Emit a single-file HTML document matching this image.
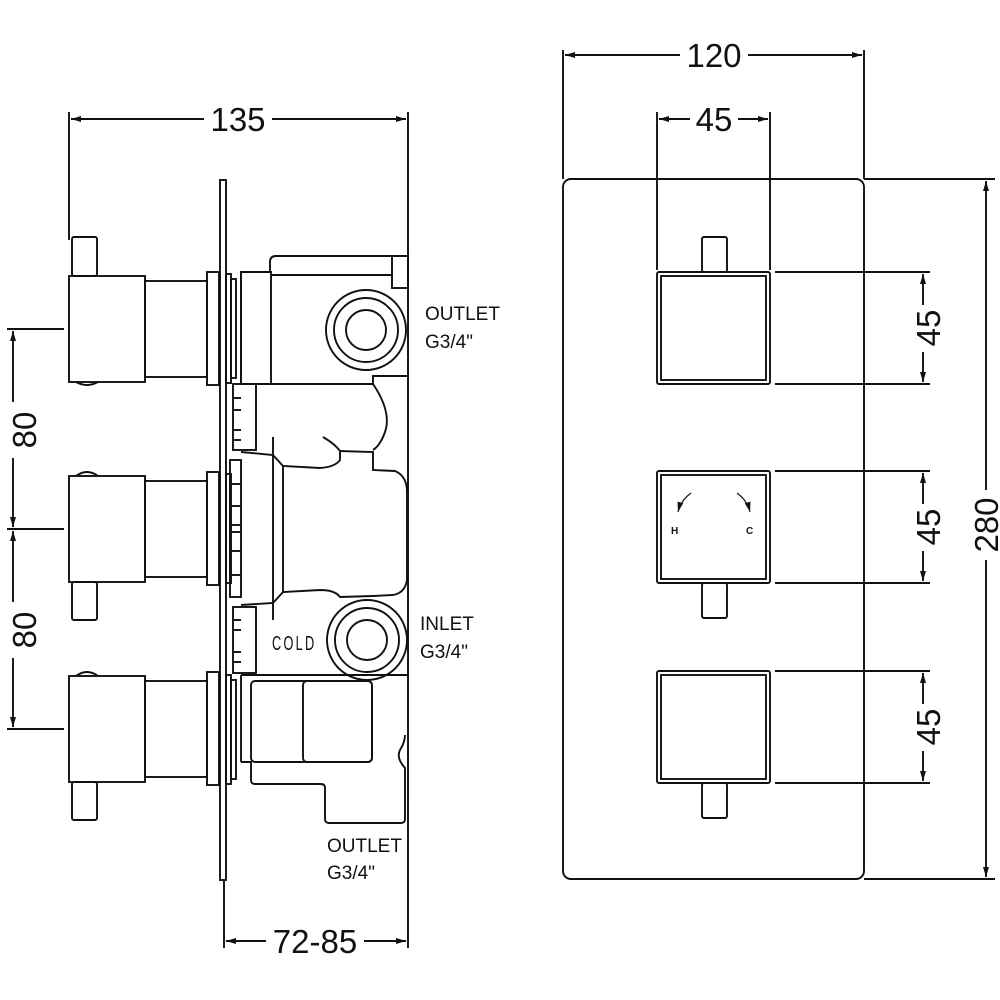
<!DOCTYPE html>
<html><head><meta charset="utf-8"><style>
html,body{margin:0;padding:0;background:#fff}
svg{display:block}
text{font-family:"Liberation Sans",sans-serif;fill:#111}
</style></head><body>
<svg width="1000" height="1000" viewBox="0 0 1000 1000" xmlns="http://www.w3.org/2000/svg">
<defs>
<marker id="a" viewBox="0 0 10 6" refX="10" refY="3" markerWidth="10" markerHeight="6" orient="auto-start-reverse" markerUnits="userSpaceOnUse"><path d="M0,0 L10,3 L0,6 z" fill="#111"/></marker>
</defs>
<g fill="none" stroke="#111" stroke-width="1.9">
<line x1="69" y1="112" x2="69" y2="240"/>
<line x1="408" y1="112" x2="408" y2="258"/>
<line x1="71" y1="119" x2="204" y2="119" marker-start="url(#a)"/>
<line x1="272" y1="119" x2="406" y2="119" marker-end="url(#a)"/>
<line x1="7" y1="329" x2="64" y2="329"/>
<line x1="7" y1="529" x2="64" y2="529"/>
<line x1="7" y1="729" x2="64" y2="729"/>
<line x1="13" y1="331" x2="13" y2="402" marker-start="url(#a)"/>
<line x1="13" y1="458" x2="13" y2="527" marker-end="url(#a)"/>
<line x1="13" y1="531" x2="13" y2="602" marker-start="url(#a)"/>
<line x1="13" y1="658" x2="13" y2="727" marker-end="url(#a)"/>
<line x1="224" y1="880" x2="224" y2="948"/>
<line x1="408" y1="800" x2="408" y2="948"/>
<line x1="226" y1="941" x2="266" y2="941" marker-start="url(#a)"/>
<line x1="364" y1="941" x2="406" y2="941" marker-end="url(#a)"/>

<rect x="220" y="180" width="6" height="700"/>

<rect x="72" y="237" width="25" height="39" rx="2"/>
<rect x="69" y="276" width="76" height="106"/>
<rect x="145" y="281" width="62" height="96"/>
<rect x="207" y="272" width="12" height="113"/>
<rect x="226" y="274" width="5" height="109"/>
<rect x="231" y="279" width="5" height="99"/>
<path d="M76,382 Q87,388 98,382"/>
<path d="M76,476 Q87,468 98,476"/>
<rect x="69" y="476" width="76" height="106"/>
<rect x="145" y="481" width="62" height="96"/>
<rect x="207" y="472" width="12" height="113"/>
<rect x="226" y="474" width="5" height="109"/>
<rect x="72" y="582" width="25" height="38" rx="2"/>
<path d="M76,676 Q87,668 98,676"/>
<rect x="69" y="676" width="76" height="106"/>
<rect x="145" y="681" width="62" height="96"/>
<rect x="207" y="672" width="12" height="113"/>
<rect x="226" y="675" width="5" height="109"/>
<rect x="231" y="680" width="5" height="99"/>
<rect x="72" y="782" width="25" height="38" rx="2"/>

<path d="M241,384 L241,272 L270,272 L270,262 Q270,256 276,256 L408,256 L408,800"/>
<rect x="241" y="272" width="30" height="112"/>
<line x1="271" y1="275" x2="392" y2="275"/>
<rect x="392" y="256" width="16" height="32"/>
<circle cx="366" cy="330" r="40"/>
<circle cx="366" cy="330" r="32"/>
<circle cx="366" cy="330" r="20"/>
<line x1="241" y1="384" x2="373" y2="384"/>
<path d="M373,384 L373,376 L408,376"/>
<path d="M373,384 Q392,412 385,432 Q380,446 373,450"/>
<rect x="233" y="384" width="23" height="66"/>
<line x1="233" y1="398" x2="241" y2="398"/><line x1="233" y1="410" x2="241" y2="410"/><line x1="233" y1="430" x2="241" y2="430"/><line x1="233" y1="440" x2="241" y2="440"/>
<path d="M241,452 L273,455 L283,466 L320,468 Q335,467 340,460 L340,451 L373,452 L373,470 L395,471 Q407,476 407,492 L407,580 Q405,593 393,595 L373,596 L340,597 Q335,590 320,590 L283,592 L273,603 L241,605"/>
<path d="M323,437 Q335,444 340,451"/>
<line x1="273" y1="437" x2="273" y2="620"/>
<line x1="283" y1="466" x2="283" y2="592"/>
<rect x="230" y="460" width="11" height="137"/>
<line x1="230" y1="484" x2="241" y2="484"/><line x1="230" y1="506" x2="241" y2="506"/><line x1="230" y1="525" x2="241" y2="525"/><line x1="230" y1="532" x2="241" y2="532"/><line x1="230" y1="551" x2="241" y2="551"/><line x1="230" y1="575" x2="241" y2="575"/>
<rect x="233" y="607" width="23" height="66"/>
<line x1="233" y1="620" x2="241" y2="620"/><line x1="233" y1="630" x2="241" y2="630"/><line x1="233" y1="652" x2="241" y2="652"/><line x1="233" y1="662" x2="241" y2="662"/>
<line x1="241" y1="675" x2="408" y2="675"/>
<circle cx="367" cy="640" r="40"/>
<circle cx="367" cy="640" r="32"/>
<circle cx="367" cy="640" r="20"/>
<rect x="251" y="681" width="121" height="81" rx="4"/>
<rect x="303" y="681" width="69" height="81" rx="4"/>
<path d="M241,762 L251,762 L251,780 Q251,784 255,784 L321,784 Q325,784 325,788 L325,819 Q325,823 329,823 L401,823 Q405,823 405,819 L405,768 Q396,758 400,750 Q405,742 405,735"/>
<line x1="241" y1="675" x2="241" y2="762"/>

<rect x="563" y="179" width="301" height="700" rx="8"/>
<line x1="563" y1="50" x2="563" y2="179"/>
<line x1="864" y1="50" x2="864" y2="179"/>
<line x1="565" y1="55" x2="680" y2="55" marker-start="url(#a)"/>
<line x1="748" y1="55" x2="862" y2="55" marker-end="url(#a)"/>
<line x1="657" y1="112" x2="657" y2="270"/>
<line x1="770" y1="112" x2="770" y2="270"/>
<line x1="659" y1="119" x2="690" y2="119" marker-start="url(#a)"/>
<line x1="738" y1="119" x2="768" y2="119" marker-end="url(#a)"/>
<line x1="864" y1="179" x2="995" y2="179"/>
<line x1="864" y1="879" x2="995" y2="879"/>
<line x1="986" y1="181" x2="986" y2="490" marker-start="url(#a)"/>
<line x1="986" y1="560" x2="986" y2="877" marker-end="url(#a)"/>

<rect x="702" y="237" width="25" height="35" rx="2"/>
<rect x="657" y="272" width="113" height="112" rx="2"/>
<rect x="661" y="276" width="105" height="104"/>
<rect x="657" y="471" width="113" height="112" rx="2"/>
<rect x="661" y="475" width="105" height="104"/>
<rect x="702" y="583" width="25" height="35" rx="2"/>
<rect x="657" y="671" width="113" height="112" rx="2"/>
<rect x="661" y="675" width="105" height="104"/>
<rect x="702" y="783" width="25" height="35" rx="2"/>

<line x1="775" y1="272" x2="930" y2="272"/><line x1="775" y1="384" x2="930" y2="384"/>
<line x1="775" y1="471" x2="930" y2="471"/><line x1="775" y1="583" x2="930" y2="583"/>
<line x1="775" y1="671" x2="930" y2="671"/><line x1="775" y1="783" x2="930" y2="783"/>
<line x1="923" y1="274" x2="923" y2="305" marker-start="url(#a)"/><line x1="923" y1="352" x2="923" y2="382" marker-end="url(#a)"/>
<line x1="923" y1="473" x2="923" y2="504" marker-start="url(#a)"/><line x1="923" y1="551" x2="923" y2="581" marker-end="url(#a)"/>
<line x1="923" y1="673" x2="923" y2="704" marker-start="url(#a)"/><line x1="923" y1="751" x2="923" y2="781" marker-end="url(#a)"/>
<path d="M691,493 Q681,500 678,512" stroke-width="1.2" marker-end="url(#a)"/>
<path d="M737,493 Q747,500 750,512" stroke-width="1.2" marker-end="url(#a)"/>
</g>

<g font-size="33">
<text x="238" y="131" text-anchor="middle">135</text>
<text x="315" y="953" text-anchor="middle">72-85</text>
<text x="714" y="67" text-anchor="middle">120</text>
<text x="714" y="131" text-anchor="middle">45</text>
<text transform="translate(36,430) rotate(-90)" text-anchor="middle">80</text>
<text transform="translate(36,630) rotate(-90)" text-anchor="middle">80</text>
<text transform="translate(940,328) rotate(-90)" text-anchor="middle">45</text>
<text transform="translate(940,527) rotate(-90)" text-anchor="middle">45</text>
<text transform="translate(940,727) rotate(-90)" text-anchor="middle">45</text>
<text transform="translate(998,525) rotate(-90)" text-anchor="middle">280</text>
</g>
<g font-size="19">
<text x="425" y="320">OUTLET</text><text x="425" y="348">G3/4"</text>
<text x="420" y="630">INLET</text><text x="420" y="658">G3/4"</text>
<text x="327" y="852">OUTLET</text><text x="327" y="879">G3/4"</text>
<text x="272" y="650" font-size="17" letter-spacing="3" transform="translate(272,650) scale(0.75,1.2) translate(-272,-650)">COLD</text>
</g>
<text x="671" y="534" font-size="10" font-weight="bold">H</text>
<text x="746" y="534" font-size="10" font-weight="bold">C</text>
</svg>
</body></html>
